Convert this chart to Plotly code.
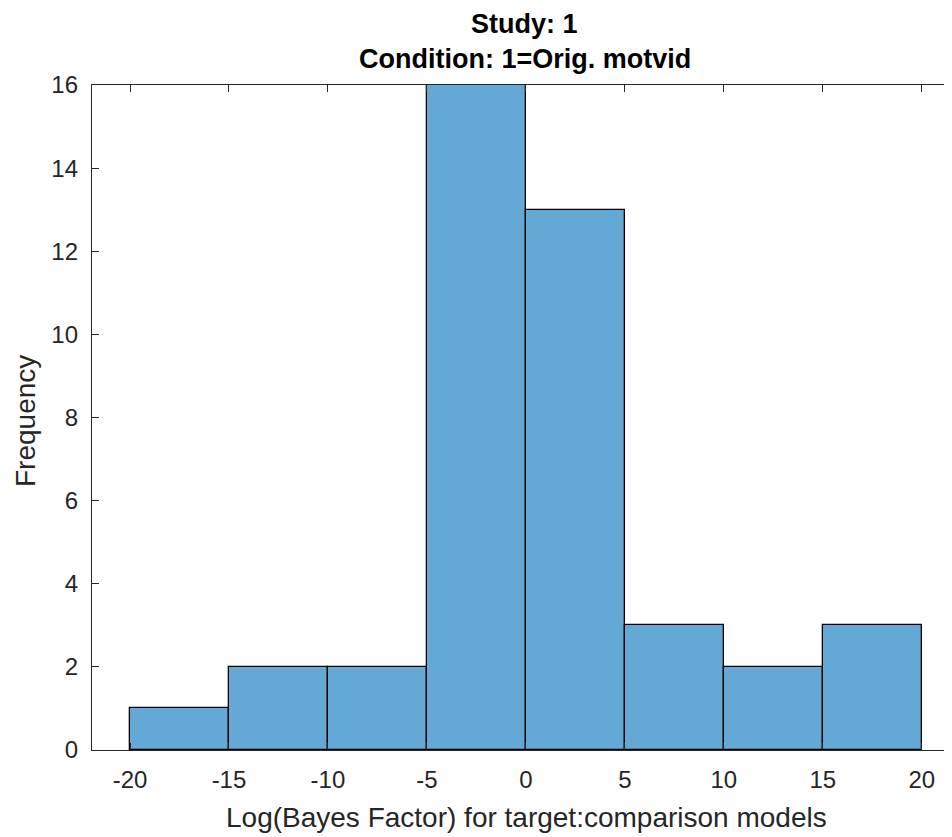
import plotly.graph_objects as go

bin_edges = [-20, -15, -10, -5, 0, 5, 10, 15, 20]
counts = [1, 2, 2, 16, 13, 3, 2, 3]
x_ticks = [-20, -15, -10, -5, 0, 5, 10, 15, 20]
y_ticks = [0, 2, 4, 6, 8, 10, 12, 14, 16]

centers = [(a + b) / 2 for a, b in zip(bin_edges[:-1], bin_edges[1:])]
widths = [b - a for a, b in zip(bin_edges[:-1], bin_edges[1:])]

font_family = "Liberation Sans, Arial, Helvetica, sans-serif"

# page body has an 8px margin; figure sized to fill the rest of the window
OFF = 8
W, H = 952 - OFF, 837 - OFF
L, R, T, B = 92 - OFF, 0, 85 - OFF, 837 - 750
pw, ph = W - L - R, H - T - B


def px(wx):
    return (wx - OFF - L) / pw


def py(wy):
    return (H - B - (wy - OFF)) / ph


fig = go.Figure(go.Bar(
    x=centers, y=counts, width=widths,
    marker=dict(color="#64A9D6", line=dict(color="black", width=1.3)),
))

annotations = [
    dict(text="<b>Study: 1</b>", x=px(524), y=py(24), xref="paper", yref="paper",
         xanchor="center", yanchor="middle", showarrow=False,
         font=dict(family=font_family, size=27, color="black")),
    dict(text="<b>Condition: 1=Orig. motvid</b>", x=px(525), y=py(59), xref="paper", yref="paper",
         xanchor="center", yanchor="middle", showarrow=False,
         font=dict(family=font_family, size=27, color="black")),
    dict(text="Log(Bayes Factor) for target:comparison models", x=px(526), y=py(818),
         xref="paper", yref="paper", xanchor="center", yanchor="middle", showarrow=False,
         font=dict(family=font_family, size=28, color="#262626")),
    dict(text="Frequency", x=px(25), y=py(421), xref="paper", yref="paper",
         xanchor="center", yanchor="middle", showarrow=False, textangle=-90,
         font=dict(family=font_family, size=28, color="#262626")),
]

fig.update_layout(
    width=W, height=H,
    paper_bgcolor="white", plot_bgcolor="white",
    margin=dict(l=L, r=R, t=T, b=B),
    showlegend=False,
    font=dict(family=font_family, size=24, color="#262626"),
    bargap=0,
    annotations=annotations,
)

fig.update_xaxes(
    range=[-21.92, 21.53], tickvals=x_ticks, ticktext=[str(v) for v in x_ticks],
    showline=True, linecolor="#262626", linewidth=1.3, mirror="ticks",
    ticks="inside", ticklen=7, tickcolor="#262626", tickwidth=1.3,
    showgrid=False, zeroline=False, ticklabelstandoff=8,
    tickfont=dict(size=24), automargin=False,
)
fig.update_yaxes(
    range=[0, 16], tickvals=y_ticks, ticktext=[str(v) for v in y_ticks],
    showline=True, linecolor="#262626", linewidth=1.3, mirror=False,
    ticks="inside", ticklen=7, tickcolor="#262626", tickwidth=1.3,
    showgrid=False, zeroline=False, ticklabelstandoff=8,
    tickfont=dict(size=24), automargin=False,
)

fig.write_html("out.html")
